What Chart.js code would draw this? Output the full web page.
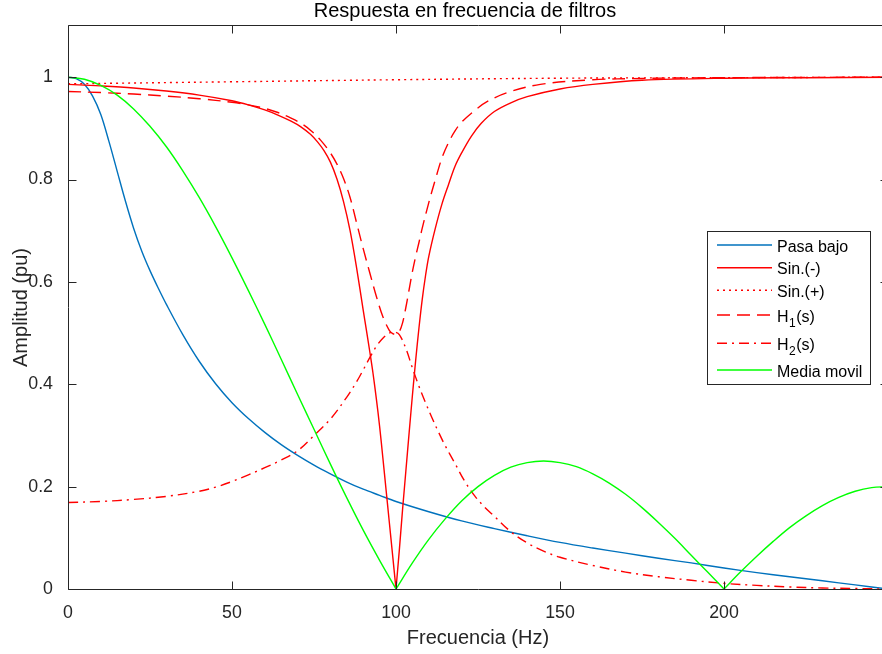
<!DOCTYPE html>
<html>
<head>
<meta charset="utf-8">
<title>Respuesta en frecuencia de filtros</title>
<script src="https://cdn.jsdelivr.net/npm/chart.js@4.4.1/dist/chart.umd.min.js"></script>
<style>
    html, body { margin: 0; padding: 0; background: #fff; overflow: hidden; }
    #wrap { position: relative; width: 890px; height: 654px; }
</style>
</head>
<body>
<div id="wrap"><canvas id="filtros"></canvas></div>
<script>
// Ticks
const xTicks = [0, 50, 100, 150, 200];
const yTicks = [0, 0.2, 0.4, 0.6, 0.8, 1];

// Series labels (H_1 -> subscript)
const seriesLabels = ['Pasa bajo', 'Sin.(-)', 'Sin.(+)', 'H_1(s)', 'H_2(s)', 'Media movil'];

// Pasa bajo
const freqPasaBajo = [0, 2.5, 5, 7.5, 10, 12.5, 15, 17.5, 20, 22.5, 25, 27.5, 30, 35, 40, 45, 50, 55, 60, 65, 70, 75, 80, 85, 90, 95, 100,
    110, 120, 130, 140, 150, 160, 170, 180, 190, 200, 210, 220, 230, 240, 250];
const pasaBajo = [1.000, 0.997, 0.986, 0.963, 0.927, 0.874, 0.816, 0.758, 0.705, 0.660, 0.622, 0.588, 0.556, 0.497, 0.445, 0.401, 0.364,
    0.333, 0.306, 0.282, 0.261, 0.242, 0.225, 0.209, 0.195, 0.183, 0.171,
    0.151, 0.133, 0.118, 0.104, 0.091, 0.080, 0.070, 0.060, 0.051, 0.041, 0.032, 0.024, 0.016, 0.008, 0.000];

// Sin.(-)  (100 Hz listed twice so the notch keeps its sharp tip)
const freqSinMenos = [0, 10, 20, 30, 40, 50, 55, 60, 64, 68, 71, 74, 76, 78, 80, 82, 84, 86, 88, 90,
    91, 92, 93, 94, 95, 96, 97, 98, 99, 100, 100, 101, 102, 103, 104, 105, 106, 107, 108, 109, 110,
    112, 114, 116, 118, 120, 123, 126, 130, 135, 140, 150, 160, 175, 200, 225, 250];
const sinMenos = [0.986, 0.983, 0.979, 0.973, 0.965, 0.954, 0.946, 0.936, 0.926, 0.914, 0.903, 0.888, 0.874, 0.857, 0.834, 0.801, 0.757, 0.700, 0.627, 0.545,
    0.505, 0.464, 0.421, 0.372, 0.318, 0.256, 0.192, 0.128, 0.064, 0.000, 0.000, 0.075, 0.155, 0.230, 0.305, 0.378, 0.447, 0.510, 0.566, 0.612, 0.650,
    0.705, 0.752, 0.790, 0.826, 0.852, 0.885, 0.910, 0.933, 0.950, 0.962, 0.977, 0.986, 0.994, 0.998, 0.999, 1.000];

// Sin.(+)
const freqSinMas = [0, 50, 100, 150, 200, 250];
const sinMas = [0.987, 0.991, 0.995, 0.998, 0.999, 1.000];

// H1(s)
const freqH1 = [0, 10, 20, 30, 40, 50, 55, 60, 64, 68, 71, 74, 77, 80, 82, 84, 86, 88, 90, 92, 94, 96, 98, 99, 100,
    101, 102, 103, 104, 105, 106, 107, 108,
    110, 112, 114, 116, 118, 120, 124, 128, 134, 144, 160, 175, 200, 250];
const h1 = [0.972, 0.970, 0.967, 0.963, 0.958, 0.951, 0.946, 0.939, 0.931, 0.920, 0.910, 0.896, 0.877, 0.852, 0.830, 0.802, 0.765, 0.715, 0.665, 0.618, 0.572, 0.532, 0.505, 0.499, 0.498,
    0.503, 0.520, 0.550, 0.585, 0.620, 0.650, 0.677, 0.705,
    0.755, 0.800, 0.842, 0.872, 0.895, 0.912, 0.935, 0.953, 0.970, 0.986, 0.995, 0.9975, 0.999, 1.000];

// H2(s)
const freqH2 = [0, 10, 20, 30, 40, 45, 50, 55, 60, 65, 70, 75, 80, 85, 88, 90, 92, 94, 96, 98,
    99.5, 101, 103, 105, 107, 109, 111, 113, 115, 118, 121, 124, 127, 130, 135, 140, 145, 150,
    160, 170, 180, 190, 200, 210, 220, 230, 240, 250];
const h2 = [0.169, 0.171, 0.175, 0.181, 0.191, 0.199, 0.210, 0.223, 0.237, 0.252, 0.270, 0.300, 0.332, 0.375, 0.405, 0.428, 0.452, 0.474, 0.490, 0.500,
    0.502, 0.497, 0.470, 0.432, 0.396, 0.364, 0.334, 0.306, 0.280, 0.245, 0.210, 0.182, 0.160, 0.142, 0.112, 0.090, 0.074, 0.062,
    0.046, 0.033, 0.024, 0.017, 0.011, 0.007, 0.004, 0.002, 0.001, 0.000];

// Media movil  (zeros at 100 and 200 listed twice for the sharp tips)
const freqMedia = [0, 5, 10, 15, 20, 25, 30, 35, 40, 45, 50, 55, 60, 65, 70, 75, 80, 85, 90, 95, 100,
    100, 105, 110, 115, 120, 125, 130, 135, 140, 145, 150, 155, 160, 165, 170, 175, 180, 185, 190, 195, 200,
    200, 205, 210, 215, 220, 225, 230, 235, 240, 245, 250];
const mediaMovil = [1.000, 0.996, 0.984, 0.965, 0.938, 0.904, 0.864, 0.817, 0.765, 0.708, 0.647, 0.583, 0.517, 0.449, 0.380, 0.312, 0.244, 0.178, 0.115, 0.056, 0.000,
    0.000, 0.051, 0.097, 0.137, 0.172, 0.200, 0.222, 0.238, 0.247, 0.250, 0.247, 0.239, 0.225, 0.207, 0.185, 0.159, 0.130, 0.099, 0.066, 0.033, 0.000,
    0.000, 0.033, 0.064, 0.093, 0.120, 0.143, 0.163, 0.179, 0.191, 0.198, 0.200];

const AXIS_COLOR = '#262626';
const FONT = '"Liberation Sans", Arial, Helvetica, sans-serif';

function toPoints(xs, ys) {
    return xs.map((x, i) => ({ x: x, y: ys[i] }));
}

// MATLAB-like frame, inward ticks, title, axis labels and legend box
const matlabFrame = {
    id: 'matlabFrame',
    afterDraw(chart) {
        const ctx = chart.ctx;
        const area = chart.chartArea;
        const xs = chart.scales.x;
        const ys = chart.scales.y;
        const L = Math.round(area.left) + 0.5;
        const R = Math.round(area.right) + 0.5;
        const T = Math.round(area.top) - 0.5;
        const B = Math.round(area.bottom) + 0.5;
        const tick = 8;

        ctx.save();
        ctx.strokeStyle = AXIS_COLOR;
        ctx.lineWidth = 1;
        ctx.beginPath();
        ctx.moveTo(L, B); ctx.lineTo(R, B); ctx.lineTo(R, T); ctx.lineTo(L, T); ctx.closePath();
        xTicks.forEach(v => {
            const px = Math.round(xs.getPixelForValue(v)) + 0.5;
            ctx.moveTo(px, B); ctx.lineTo(px, B - tick);
            ctx.moveTo(px, T); ctx.lineTo(px, T + tick);
        });
        yTicks.forEach(v => {
            const py = Math.round(ys.getPixelForValue(v)) + 0.5;
            ctx.moveTo(L, py); ctx.lineTo(L + tick, py);
            ctx.moveTo(R, py); ctx.lineTo(R - tick, py);
        });
        ctx.stroke();

        // Title and axis labels
        ctx.fillStyle = '#000';
        ctx.textAlign = 'center';
        ctx.textBaseline = 'alphabetic';
        ctx.font = '20px ' + FONT;
        ctx.fillText('Respuesta en frecuencia de filtros', 465, 17);
        ctx.fillStyle = AXIS_COLOR;
        ctx.fillText('Frecuencia (Hz)', (area.left + area.right) / 2, 643.5);
        ctx.save();
        ctx.translate(27, (area.top + area.bottom) / 2);
        ctx.rotate(-Math.PI / 2);
        ctx.fillText('Amplitud (pu)', 0, 0);
        ctx.restore();

        // Legend
        const box = { x: 707.5, y: 231.5, w: 163, h: 153 };
        const rowY = [245, 267.7, 290.3, 315, 343.3, 370];
        ctx.fillStyle = '#fff';
        ctx.fillRect(box.x, box.y, box.w, box.h);
        ctx.strokeStyle = AXIS_COLOR;
        ctx.setLineDash([]);
        ctx.strokeRect(box.x, box.y, box.w, box.h);

        chart.data.datasets.forEach((ds, i) => {
            const y = rowY[i];
            ctx.save();
            ctx.strokeStyle = ds.borderColor;
            ctx.lineWidth = ds.borderWidth;
            ctx.setLineDash(ds.borderDash || []);
            ctx.beginPath();
            ctx.moveTo(717, y);
            ctx.lineTo(772, y);
            ctx.stroke();
            ctx.restore();

            ctx.fillStyle = '#000';
            ctx.textAlign = 'left';
            ctx.textBaseline = 'alphabetic';
            let tx = 777;
            const base = y + 6.7;
            const parts = ds.label.split('_');
            ctx.font = '16px ' + FONT;
            ctx.fillText(parts[0], tx, base);
            tx += ctx.measureText(parts[0]).width;
            if (parts.length > 1) {
                const sub = parts[1].charAt(0);
                ctx.font = '12px ' + FONT;
                ctx.fillText(sub, tx + 0.5, base + 5);
                tx += ctx.measureText(sub).width + 1;
                ctx.font = '16px ' + FONT;
                ctx.fillText(parts[1].slice(1), tx, base);
            }
        });
        ctx.restore();
    }
};

const lineBase = {
    borderWidth: 1.4,
    pointRadius: 0,
    tension: 0.35,
    fill: false,
    borderJoinStyle: 'round'
};

new Chart(document.getElementById('filtros'), {
    type: 'line',
    data: {
        datasets: [
            { ...lineBase, label: seriesLabels[0], data: toPoints(freqPasaBajo, pasaBajo), borderColor: '#0072BD', order: 6 },
            { ...lineBase, label: seriesLabels[1], data: toPoints(freqSinMenos, sinMenos), borderColor: '#FF0000', order: 5 },
            { ...lineBase, label: seriesLabels[2], data: toPoints(freqSinMas, sinMas), borderColor: '#FF0000', borderDash: [2, 4], order: 4 },
            { ...lineBase, label: seriesLabels[3], data: toPoints(freqH1, h1), borderColor: '#FF0000', borderDash: [13, 7], order: 3 },
            { ...lineBase, label: seriesLabels[4], data: toPoints(freqH2, h2), borderColor: '#FF0000', borderDash: [10, 5, 2, 5], order: 2 },
            { ...lineBase, label: seriesLabels[5], data: toPoints(freqMedia, mediaMovil), borderColor: '#00FF00', order: 1 }
        ]
    },
    options: {
        responsive: true,
        maintainAspectRatio: false,
        animation: false,
        events: [],
        layout: { padding: { top: 26, right: 2, left: 0, bottom: 0 } },
        plugins: {
            legend: { display: false },
            title: { display: false },
            tooltip: { enabled: false }
        },
        scales: {
            x: {
                type: 'linear',
                min: 0,
                max: 250,
                grid: { display: false },
                border: { display: false },
                ticks: { color: AXIS_COLOR, font: { family: FONT, size: 17.8 }, padding: 5, maxRotation: 0, autoSkip: false },
                afterBuildTicks: (scale) => { scale.ticks = xTicks.map(v => ({ value: v })); },
                afterFit: (scale) => { scale.height = 65; }
            },
            y: {
                type: 'linear',
                min: 0,
                max: 1.1,
                grid: { display: false },
                border: { display: false },
                ticks: { color: AXIS_COLOR, font: { family: FONT, size: 17.8 }, padding: 7, callback: (v) => String(v) },
                afterBuildTicks: (scale) => { scale.ticks = yTicks.map(v => ({ value: v })); },
                afterFit: (scale) => { scale.width = 68; }
            }
        }
    },
    plugins: [matlabFrame]
});
</script>
</body>
</html>
